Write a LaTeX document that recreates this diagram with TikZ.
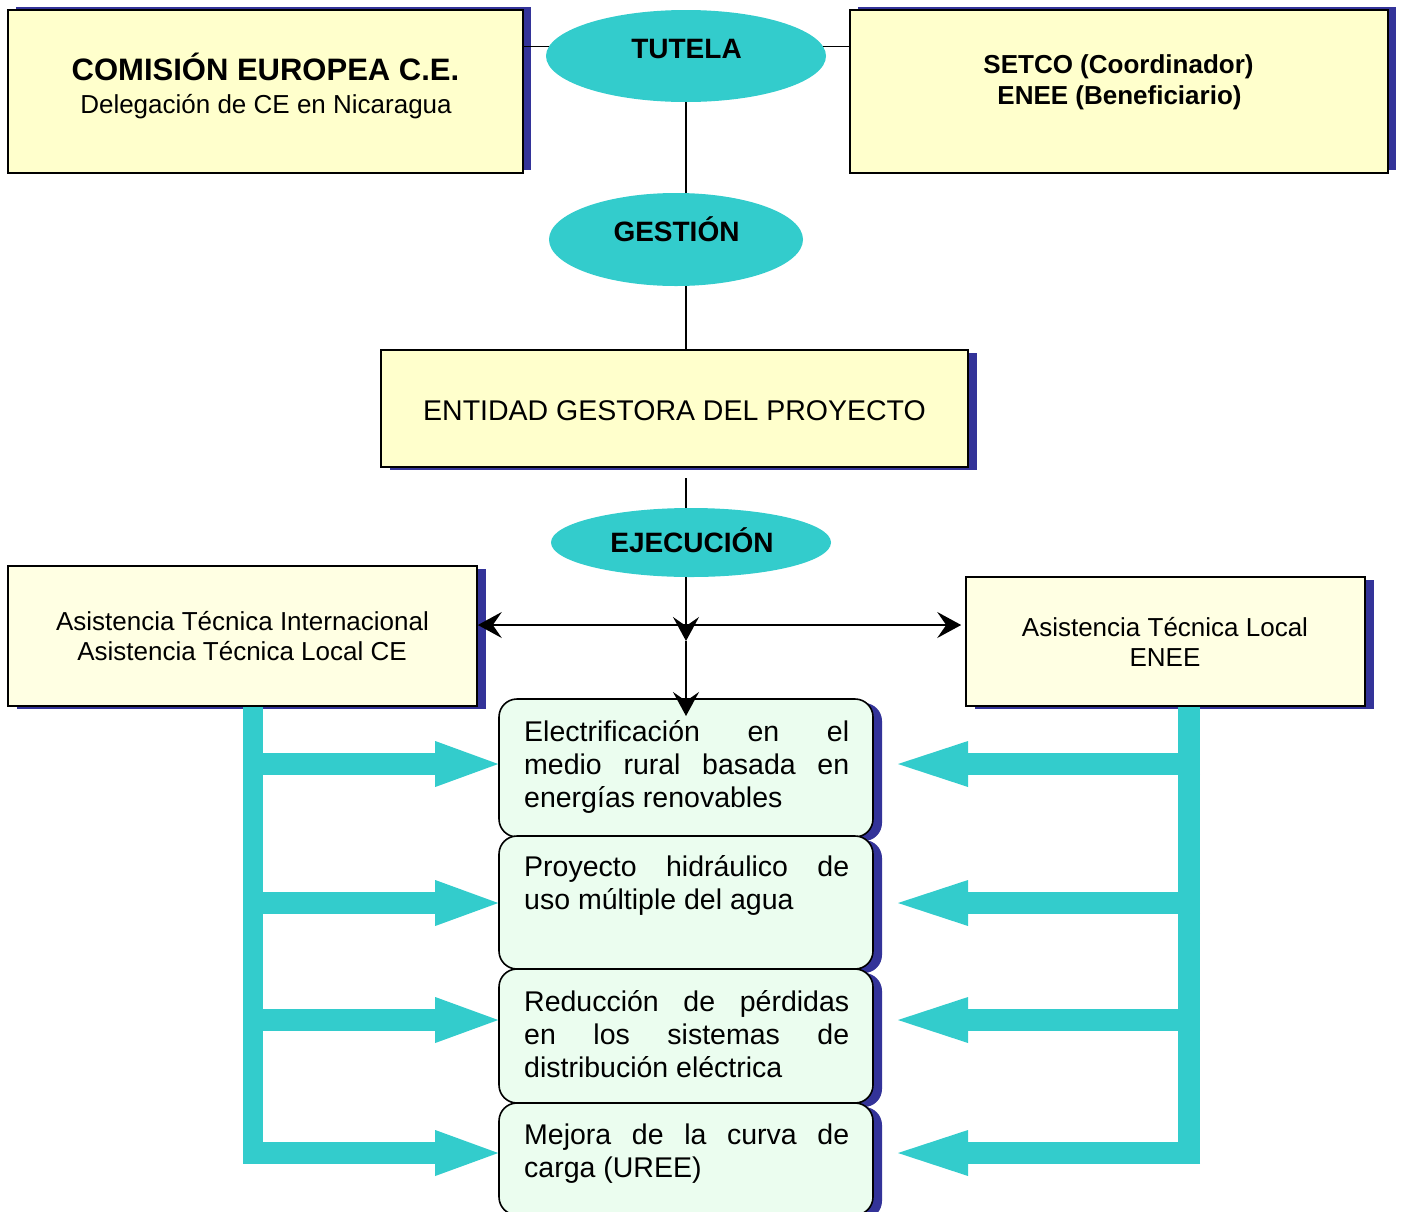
\documentclass[tikz,border=0pt]{standalone}
\usepackage{fontspec}
\setmainfont{Liberation Sans}
\usetikzlibrary{arrows.meta,shapes.geometric,shadows}
\definecolor{tealc}{HTML}{33CCCC}
\definecolor{shadowc}{HTML}{333399}
\definecolor{yelc}{HTML}{FFFFCC}
\definecolor{ltyel}{HTML}{FFFFE3}
\definecolor{mintc}{HTML}{EBFDEF}
\newcommand\fsz[2]{\fontsize{#1}{#2}\selectfont}
\begin{document}
\begin{tikzpicture}[x=1pt,y=-1pt,
  shadowup/.style={drop shadow={shadow xshift=8pt,shadow yshift=3pt,fill=shadowc,opacity=1}},
  shadowdn/.style={drop shadow={shadow xshift=9pt,shadow yshift=-3pt,fill=shadowc,opacity=1}},
  shadowrd/.style={drop shadow={shadow xshift=9pt,shadow yshift=-4pt,fill=shadowc,opacity=1}},
  ybox/.style={rectangle,draw=black,line width=1.6pt,fill=yelc,inner sep=0pt},
  lybox/.style={ybox,fill=ltyel},
  rbox/.style={rectangle,rounded corners=18pt,draw=black,line width=1.6pt,fill=mintc,inner sep=0pt,minimum width=374pt},
  oval/.style={ellipse,fill=tealc,inner sep=0pt},
  lbl/.style={anchor=base,inner sep=0pt,align=center},
  para/.style={anchor=north west,inner sep=0pt,text width=325pt,align=justify,
    font=\fsz{28.5}{33}, execute at begin node={\hyphenpenalty=10000\exhyphenpenalty=10000}},
  conn/.style={line width=1.6pt,draw=black},
  tipk/.tip={Stealth[length=24pt,width=26pt,inset=9pt]},
  tbar/.style={draw=tealc,line width=20pt},
  tarrl/.style={draw=tealc,line width=22pt,-{Triangle[length=63pt,width=46pt,line width=0pt]}},
  tarrr/.style={draw=tealc,line width=22pt,-{Triangle[length=70pt,width=46pt,line width=0pt]}}
]
\useasboundingbox (0,0) rectangle (1403,1211);
\clip (0,0) rectangle (1403,1211);

% boxes
\node[ybox,shadowup,minimum width=515pt,minimum height=163pt] (ce) at (265.5,91.5) {};
\node[ybox,shadowup,minimum width=538pt,minimum height=163pt] (setco) at (1119,91.5) {};
\node[ybox,shadowdn,minimum width=587pt,minimum height=117pt] (ent) at (674.5,408.5) {};
\node[lybox,shadowdn,minimum width=469pt,minimum height=140pt] (atl) at (242.5,636) {};
\node[lybox,shadowdn,minimum width=399pt,minimum height=129pt] (atr) at (1165.5,641.5) {};

% ellipses
\node[oval,minimum width=280pt,minimum height=92pt] (tut) at (686,56) {};
\node[oval,minimum width=254pt,minimum height=93pt] (ges) at (676,239.5) {};
\node[oval,minimum width=280pt,minimum height=69pt] (eje) at (691,542.5) {};

% rounded boxes
\node[rbox,shadowrd,minimum height=138pt] (b1) at (686,768) {};
\node[rbox,shadowrd,minimum height=133pt] (b2) at (686,902.5) {};
\node[rbox,shadowrd,minimum height=134pt] (b3) at (686,1036) {};
\node[rbox,shadowrd,minimum height=112pt] (b4) at (686,1159) {};

% labels
\node[lbl,font=\fsz{31}{35}\bfseries] (tce1) at (265.5,80) {COMISIÓN EUROPEA C.E.};
\node[lbl,font=\fsz{26}{30}] (tce2) at (266,113) {Delegación de CE en Nicaragua};
\node[lbl,font=\fsz{28}{32}\bfseries] (ttut) at (686.5,58) {TUTELA};
\node[lbl,font=\fsz{26}{30}\bfseries] (tse1) at (1118.5,73) {SETCO (Coordinador)};
\node[lbl,font=\fsz{26}{30}\bfseries] (tse2) at (1119.5,104) {ENEE (Beneficiario)};
\node[lbl,font=\fsz{28}{32}\bfseries] (tges) at (676.5,241) {GESTIÓN};
\node[lbl,font=\fsz{28.5}{32}] (tent) at (674.5,420) {ENTIDAD GESTORA DEL PROYECTO};
\node[lbl,font=\fsz{28}{32}\bfseries] (teje) at (692,552) {EJECUCIÓN};
\node[lbl,font=\fsz{26}{30}] (tatl1) at (242.5,630) {Asistencia Técnica Internacional};
\node[lbl,font=\fsz{26}{30}] (tatl2) at (242,660) {Asistencia Técnica Local CE};
\node[lbl,font=\fsz{26}{30}] (tatr1) at (1165,636) {Asistencia Técnica Local};
\node[lbl,font=\fsz{26}{30}] (tatr2) at (1165,666) {ENEE};

\node[para] (p1) at (524,718) {\rule{0pt}{23pt}Electrificación en el\linebreak medio rural basada en\linebreak energías renovables};
\node[para] (p2) at (524,853) {\rule{0pt}{23pt}Proyecto hidráulico de\linebreak uso múltiple del agua};
\node[para] (p3) at (524,988) {\rule{0pt}{23pt}Reducción de pérdidas\linebreak en los sistemas de\linebreak distribución eléctrica};
\node[para] (p4) at (524,1121) {\rule{0pt}{23pt}Mejora de la curva de\linebreak carga (UREE)};

% black connectors
\draw[conn] (tut.176) -- (tut.176 -| ce.east);
\draw[conn] (tut.4) -- (tut.4 -| setco.west);
\draw[conn] (tut.south) -- (tut.south |- ges.north);
\draw[conn] (tut.south |- ges.south) -- (tut.south |- ent.north);
\coordinate (e0) at (686,478);
\draw[conn] (e0) -- (e0 |- eje.north);
\coordinate (mid) at (686,641);
\coordinate (btip) at (686,716);
\draw[conn,-tipk] (eje.south -| mid) -- (mid);
\draw[conn,-tipk] (mid) -- (btip);
\coordinate (hl) at (686,625);
\draw[conn,tipk-tipk] (hl -| atl.east) -- ([xshift=-4pt]hl -| atr.west);

% teal arrows
\coordinate (lv) at (252.5,1164);
\coordinate (rv) at (1189,1164);
\draw[tbar] (lv |- atl.south) -- (lv);
\draw[tbar,line width=22pt] (rv |- atr.south) -- (rv);
\foreach \yy/\bb in {764/b1,903/b2,1020/b3,1153/b4}{
  \coordinate (L\bb) at (243,\yy);
  \coordinate (R\bb) at (1200,\yy);
  \coordinate (RT\bb) at (898,\yy);
  \draw[tarrl] (L\bb) -- (\bb.west |- L\bb);
  \draw[tarrr] (R\bb) -- (RT\bb);
}
\end{tikzpicture}
\end{document}
